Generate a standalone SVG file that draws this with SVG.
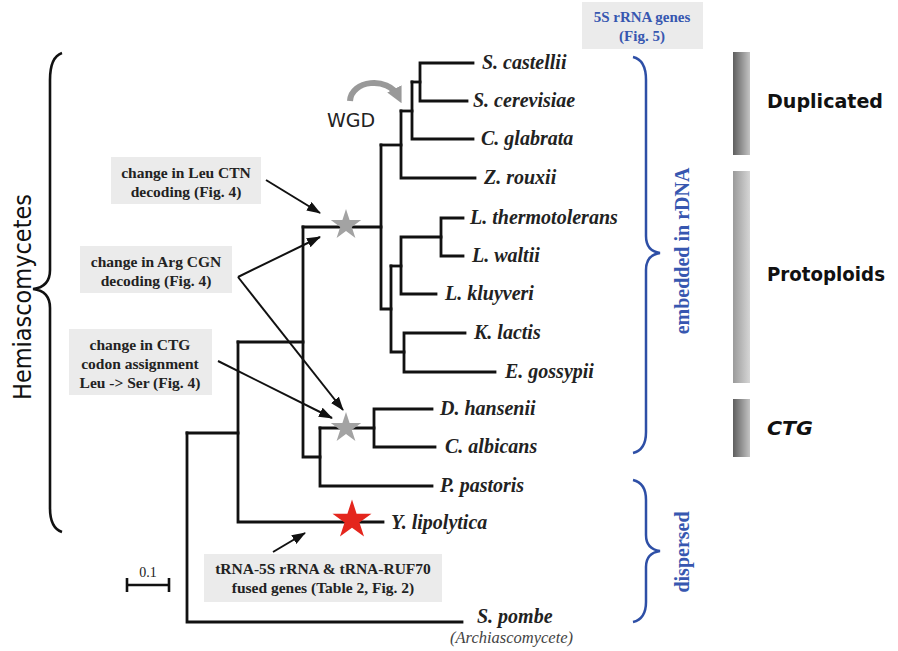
<svg xmlns="http://www.w3.org/2000/svg" width="898" height="651" viewBox="0 0 898 651">
  <defs>
    <style>
      .br { fill: none; stroke: #111; stroke-width: 2.8; stroke-linecap: square; }
      .arr { fill: none; stroke: #111; stroke-width: 2; marker-end: url(#ah); }
      .sp { font-family: "Liberation Serif", "Times New Roman", serif; font-weight: bold; font-style: italic; font-size: 20px; fill: #222; }
      .box { fill: #ebebeb; }
      .bt { font-family: "Liberation Serif", "Times New Roman", serif; font-weight: bold; font-size: 15.5px; fill: #222; text-anchor: middle; }
      .blue { font-family: "Liberation Serif", "Times New Roman", serif; font-weight: bold; fill: #3757b0; }
      .brace-b { fill: none; stroke: #2e4fa6; stroke-width: 2.5; }
      .brace-k { fill: none; stroke: #111; stroke-width: 2.6; }
      .grp { font-family: "DejaVu Sans", "Noto Sans", sans-serif; font-weight: bold; font-size: 19px; fill: #111; }
    </style>
    <marker id="ah" markerUnits="userSpaceOnUse" markerWidth="14" markerHeight="10" refX="13" refY="5" orient="auto">
      <path d="M0,0 L14,5 L0,10 z" fill="#111"/>
    </marker>
    <marker id="ahg" markerUnits="userSpaceOnUse" markerWidth="16" markerHeight="16" refX="8" refY="8" orient="auto">
      <path d="M0,0 L16,8 L0,16 z" fill="#999"/>
    </marker>
    <polygon id="star" points="0,-16 3.59,-4.94 15.22,-4.94 5.81,1.89 9.40,12.94 0,6.11 -9.40,12.94 -5.81,1.89 -15.22,-4.94 -3.59,-4.94"/>
    <linearGradient id="gDark" x1="0" y1="0" x2="1" y2="0">
      <stop offset="0" stop-color="#5e5e5e"/>
      <stop offset="1" stop-color="#c4c4c4"/>
    </linearGradient>
    <linearGradient id="gLight" x1="0" y1="0" x2="1" y2="0">
      <stop offset="0" stop-color="#9a9a9a"/>
      <stop offset="1" stop-color="#d6d6d6"/>
    </linearGradient>
  </defs>

  <rect width="898" height="651" fill="#fff"/>

  <!-- connectors: tree branches and annotation arrows -->
  <g id="connectors">
    <g id="branches" class="br">
      <!-- Saccharomyces clade -->
      <path d="M473,63 H420 V101 H467"/>
      <path d="M420,82 H412"/>
      <path d="M473,139 H412 V82"/>
      <path d="M412,111 H401"/>
      <path d="M475,178 H401 V111"/>
      <path d="M401,145 H381"/>
      <!-- protoploid clade -->
      <path d="M463,218 H441 V256 H463"/>
      <path d="M441,237 H401 V294 H436"/>
      <path d="M401,266 H391"/>
      <path d="M465,333 H404 V372 H495"/>
      <path d="M404,352 H391 V266"/>
      <path d="M391,309 H381 V145"/>
      <path d="M381,227 H303"/>
      <!-- CTG clade -->
      <path d="M432,409 H374 V447 H435"/>
      <path d="M374,428 H320"/>
      <path d="M432,486 H320 V428"/>
      <path d="M320,457 H303 V227"/>
      <path d="M303,342 H238"/>
      <path d="M383,522 H238 V342"/>
      <path d="M238,433 H187"/>
      <path d="M462,622 H187 V433"/>
    </g>
    <g id="arrows">
      <path class="arr" d="M266,180 L320,213"/>
      <path class="arr" d="M238,277 L320,237"/>
      <path class="arr" d="M238,277 L343,410"/>
      <path class="arr" d="M218,361 L332,418"/>
      <path class="arr" d="M273,552 L305,533"/>
      <path d="M350,101 C351,80 388,76 398,96" fill="none" stroke="#999" stroke-width="6" marker-end="url(#ahg)"/>
    </g>
  </g>

  <!-- event markers -->
  <g id="stars">
    <use href="#star" transform="translate(346,225)" fill="#a3a3a3"/>
    <use href="#star" transform="translate(346,428)" fill="#a3a3a3"/>
    <use href="#star" transform="translate(352,520) scale(1.28)" fill="#e4261d"/>
  </g>

  <g id="wgd-label">
    <text x="327" y="127" font-family="DejaVu Sans, Noto Sans, sans-serif" font-size="19" fill="#222">WGD</text>
  </g>

  <!-- species -->
  <g id="s-castellii"><text class="sp" x="482" y="69">S. castellii</text></g>
  <g id="s-cerevisiae"><text class="sp" x="473" y="107">S. cerevisiae</text></g>
  <g id="c-glabrata"><text class="sp" x="481" y="145">C. glabrata</text></g>
  <g id="z-rouxii"><text class="sp" x="484" y="184">Z. rouxii</text></g>
  <g id="l-thermotolerans"><text class="sp" x="470" y="224">L. thermotolerans</text></g>
  <g id="l-waltii"><text class="sp" x="472" y="262">L. waltii</text></g>
  <g id="l-kluyveri"><text class="sp" x="445" y="300">L. kluyveri</text></g>
  <g id="k-lactis"><text class="sp" x="474" y="339">K. lactis</text></g>
  <g id="e-gossypii"><text class="sp" x="505" y="378">E. gossypii</text></g>
  <g id="d-hansenii"><text class="sp" x="440" y="415">D. hansenii</text></g>
  <g id="c-albicans"><text class="sp" x="445" y="453">C. albicans</text></g>
  <g id="p-pastoris"><text class="sp" x="440" y="492">P. pastoris</text></g>
  <g id="y-lipolytica"><text class="sp" x="391" y="529" font-size="23" fill="#111">Y. lipolytica</text></g>
  <g id="s-pombe">
    <text class="sp" x="477" y="623">S. pombe</text>
    <text x="450" y="643" font-family="Liberation Serif, serif" font-style="italic" font-size="16.5" fill="#444">(Archiascomycete)</text>
  </g>

  <!-- annotation boxes -->
  <g id="note-leu">
    <rect class="box" x="111" y="157" width="150" height="47"/>
    <text class="bt" x="186" y="178">change in Leu CTN</text>
    <text class="bt" x="186" y="197">decoding (Fig. 4)</text>
  </g>
  <g id="note-arg">
    <rect class="box" x="80" y="246" width="152" height="47"/>
    <text class="bt" x="156" y="267">change in Arg CGN</text>
    <text class="bt" x="156" y="286">decoding (Fig. 4)</text>
  </g>
  <g id="note-ctg">
    <rect class="box" x="69" y="329" width="143" height="66"/>
    <text class="bt" x="140" y="350">change in CTG</text>
    <text class="bt" x="140" y="369">codon assignment</text>
    <text class="bt" x="140" y="388">Leu -&gt; Ser (Fig. 4)</text>
  </g>
  <g id="note-trna">
    <rect class="box" x="204" y="554" width="238" height="48"/>
    <text class="bt" x="323" y="574">tRNA-5S rRNA &amp; tRNA-RUF70</text>
    <text class="bt" x="323" y="593">fused genes (Table 2, Fig. 2)</text>
  </g>
  <g id="note-5s">
    <rect class="box" x="582" y="2" width="121" height="47"/>
    <text class="blue" x="642" y="22" font-size="15" text-anchor="middle">5S rRNA genes</text>
    <text class="blue" x="642" y="41" font-size="15" text-anchor="middle">(Fig. 5)</text>
  </g>

  <!-- scale bar -->
  <g id="scale">
    <path d="M127,585 H169 M127,578 V592 M169,578 V592" fill="none" stroke="#111" stroke-width="2.6"/>
    <text x="148" y="577" font-family="Liberation Serif, serif" font-size="14" fill="#222" text-anchor="middle">0.1</text>
  </g>

  <!-- 5S location braces -->
  <g id="rdna">
    <path class="brace-b" d="M633,57 Q646,60 646,80 L646,236 Q646,251 660,253 Q646,255 646,270 L646,432 Q646,450 633,453"/>
    <text class="blue" font-size="20" text-anchor="middle" transform="translate(689,251) rotate(-90)">embedded in rDNA</text>
  </g>
  <g id="dispersed">
    <path class="brace-b" d="M633,480 Q646,483 646,500 L646,535 Q646,549 660,551 Q646,553 646,567 L646,602 Q646,619 633,622"/>
    <text class="blue" font-size="20" text-anchor="middle" transform="translate(689,552) rotate(-90)">dispersed</text>
  </g>

  <!-- Hemiascomycetes brace -->
  <g id="hemiascomycetes">
    <path class="brace-k" d="M62,53 Q50,57 50,80 L50,270 Q50,287 33,289 Q50,291 50,308 L50,508 Q50,528 62,532"/>
    <text x="0" y="0" font-family="DejaVu Sans, Noto Sans, sans-serif" font-size="25" fill="#111" text-anchor="middle" textLength="206" lengthAdjust="spacingAndGlyphs" transform="translate(31,297) rotate(-90)">Hemiascomycetes</text>
  </g>

  <!-- genome groups -->
  <g id="duplicated">
    <rect x="733" y="52" width="17" height="103" fill="url(#gDark)"/>
    <text class="grp" x="767" y="108" textLength="116" lengthAdjust="spacingAndGlyphs">Duplicated</text>
  </g>
  <g id="protoploids">
    <rect x="733" y="171" width="17" height="212" fill="url(#gLight)"/>
    <text class="grp" x="767" y="281" textLength="118" lengthAdjust="spacingAndGlyphs">Protoploids</text>
  </g>
  <g id="ctg">
    <rect x="733" y="399" width="17" height="58" fill="url(#gDark)"/>
    <text class="grp" x="767" y="435" font-style="italic" textLength="46" lengthAdjust="spacingAndGlyphs">CTG</text>
  </g>
</svg>
